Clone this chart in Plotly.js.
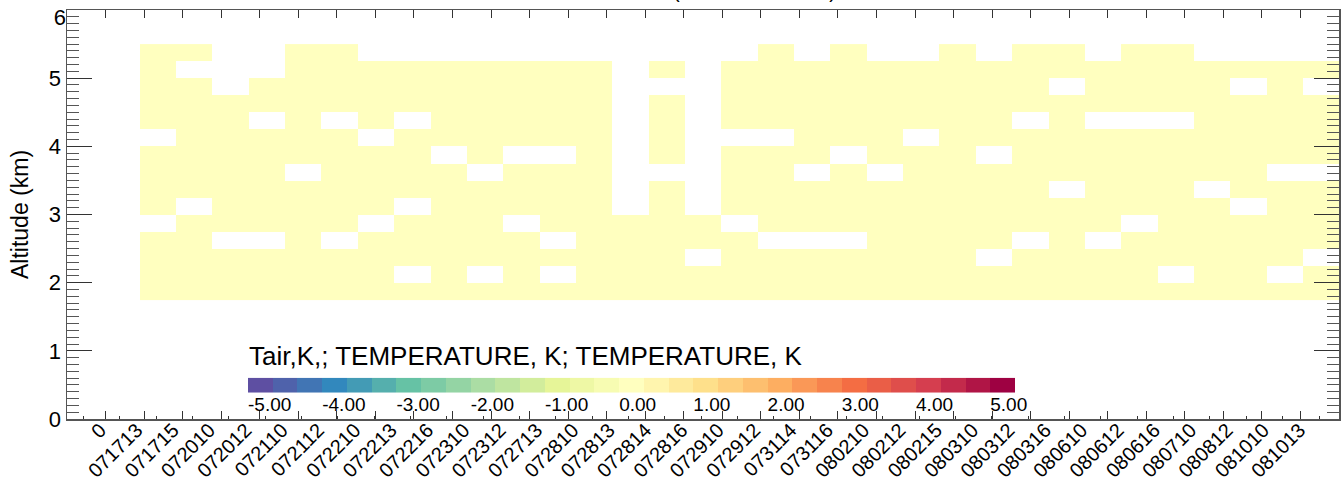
<!DOCTYPE html>
<html>
<head>
<meta charset="utf-8">
<script src="https://cdn.plot.ly/plotly-3.0.1.min.js"></script>
<style>
  html, body { margin: 0; padding: 0; background: #fff; }
  #chart { width: 1343px; height: 492px; }
</style>
</head>
<body>
<div id="chart"></div>
<script>
// ---------- data ----------
const xLabels = ['0', '071713', '071715', '072010', '072012', '072110', '072112', '072210', '072213', '072216',
  '072310', '072312', '072713', '072810', '072813', '072814', '072816', '072910', '072912', '073114',
  '073116', '080210', '080212', '080215', '080310', '080312', '080316', '080610', '080612', '080616',
  '080710', '080812', '081010', '081013'];

// altitude bin centres (km)
const altitude = [1.875, 2.125, 2.375, 2.625, 2.875, 3.125, 3.375, 3.625, 3.875, 4.125, 4.375, 4.625, 4.875, 5.125, 5.375];

const _ = null;
// temperature (K), one row per altitude bin, one entry per profile
const t1875 = [_,0,0,0,0,0,0,0,0,0, 0,0,0,0,0,0,0,0,0,0, 0,0,0,0,0,0,0,0,0,0, 0,0,0,0];
const t2125 = [_,0,0,0,0,0,0,0,_,0, _,0,_,0,0,0,0,0,0,0, 0,0,0,0,0,0,0,0,0,_, 0,0,_,0];
const t2375 = [_,0,0,0,0,0,0,0,0,0, 0,0,0,0,0,0,_,0,0,0, 0,0,0,0,_,0,0,0,0,0, 0,0,0,_];
const t2625 = [_,0,0,_,_,0,_,0,0,0, 0,0,_,0,0,0,0,0,_,_, _,0,0,0,0,_,0,_,0,0, 0,0,0,0];
const t2875 = [_,_,0,0,0,0,0,_,0,0, 0,_,0,0,0,0,0,_,0,0, 0,0,0,0,0,0,0,0,_,0, 0,0,0,0];
const t3125 = [_,0,_,0,0,0,0,0,_,0, 0,0,0,0,_,0,_,0,0,0, 0,0,0,0,0,0,0,0,0,0, 0,_,0,0];
const t3375 = [_,0,0,0,0,0,0,0,0,0, 0,0,0,0,_,0,_,0,0,0, 0,0,0,0,0,0,_,0,0,0, _,0,0,0];
const t3625 = [_,0,0,0,0,_,0,0,0,0, _,0,0,0,_,_,_,0,0,_, 0,_,0,0,0,0,0,0,0,0, 0,0,_,_];
const t3875 = [_,0,0,0,0,0,0,0,0,_, 0,_,_,0,_,0,_,0,0,0, _,0,0,0,_,0,0,0,0,0, 0,0,0,0];
const t4125 = [_,_,0,0,0,0,0,_,0,0, 0,0,0,0,_,0,_,_,_,0, 0,0,_,0,0,0,0,0,0,0, 0,0,0,0];
const t4375 = [_,0,0,0,_,0,_,0,_,0, 0,0,0,0,_,0,_,0,0,0, 0,0,0,0,0,_,0,_,_,_, 0,0,0,0];
const t4625 = [_,0,0,0,0,0,0,0,0,0, 0,0,0,0,_,0,_,0,0,0, 0,0,0,0,0,0,0,0,0,0, 0,0,0,0];
const t4875 = [_,0,0,_,0,0,0,0,0,0, 0,0,0,0,_,_,_,0,0,0, 0,0,0,0,0,0,_,0,0,0, 0,_,0,_];
const t5125 = [_,0,_,_,_,0,0,0,0,0, 0,0,0,0,_,0,_,0,0,0, 0,0,0,0,0,0,0,0,0,0, 0,0,0,0];
const t5375 = [_,0,0,_,_,0,0,_,_,_, _,_,_,_,_,_,_,_,0,_, 0,_,_,0,_,0,0,_,0,0, _,_,_,_];

const cbTitle = 'Tair,K,; TEMPERATURE, K; TEMPERATURE, K';
const cbMin = -5;
const cbMax = 16 / 3;
const cbTickVals = [-5, -4, -3, -2, -1, 0, 1, 2, 3, 4, 5];
const cbTickText = ['-5.00', '-4.00', '-3.00', '-2.00', '-1.00', '0.00', '1.00', '2.00', '3.00', '4.00', '5.00'];
const yTicks = [0, 1, 2, 3, 4, 5, 6];
const yTopTick = [6];

// ---------- style ----------
const cbColors = ['#5e4fa2', '#4f62ab', '#4175b4', '#3288bd', '#439bb5', '#55afad', '#66c2a5', '#7dcba5',
  '#94d4a4', '#abdda4', '#bfe5a0', '#d2ed9c', '#e6f598', '#eef8a5', '#f7fcb2', '#ffffbf', '#fff5ae',
  '#feea9c', '#fee08b', '#fecf7d', '#fdbf6f', '#fdae61', '#fa9857', '#f7834d', '#f46d43', '#ea5e47',
  '#df4e4b', '#d53e4f', '#c32a4b', '#b01546', '#9e0142'];
const nC = cbColors.length;
const colorscale = [];
cbColors.forEach((c, i) => {
  colorscale.push([i / nC, c]);
  colorscale.push([i === nC - 1 ? 1 : (i + 1) / nC - 1e-6, c]);
});
// centre value of each colour level of the scale (for drawing the colour key)
const cbLevels = cbColors.map((_c, i) => cbMin + (i + 0.5) * (cbMax - cbMin) / nC);

const FONT = 'Liberation Sans, Arial, Helvetica, sans-serif';
const z = [t1875, t2125, t2375, t2625, t2875, t3125, t3375, t3625, t3875, t4125, t4375, t4625, t4875, t5125, t5375];
const xCentres = xLabels.map((_l, i) => i + 0.5);
const xTickVals = xLabels.map((_l, i) => i);
const yRange = [0, 6.0001];
const PW = 1272, PH = 409; // plot area size in px

const heat = {
  type: 'heatmap',
  x: xCentres,
  y: altitude,
  z: z,
  zmin: cbMin,
  zmax: cbMax,
  colorscale: colorscale,
  showscale: false,
  hoverinfo: 'skip'
};

// colour key, drawn as a one-row heatmap on its own axes
const colourKey = {
  type: 'heatmap',
  x: cbLevels,
  y: [0],
  z: [cbLevels],
  zmin: cbMin,
  zmax: cbMax,
  colorscale: colorscale,
  showscale: false,
  xaxis: 'x3',
  yaxis: 'y3',
  hoverinfo: 'skip'
};

// helper traces so that the overlay axes (frame ticks, top altitude label) are drawn
const frameTicks = {type: 'scatter', x: [null], y: [null], xaxis: 'x2', yaxis: 'y', hoverinfo: 'skip', showlegend: false};
const topLabel = {type: 'scatter', x: [null], y: [null], xaxis: 'x', yaxis: 'y2', hoverinfo: 'skip', showlegend: false};

const layout = {
  width: 1343,
  height: 492,
  margin: {l: 67, r: 4, t: 10, b: 73},
  paper_bgcolor: '#fff',
  plot_bgcolor: '#fff',
  font: {family: FONT, color: '#000'},
  showlegend: false,
  xaxis: {
    range: [-1, 34],
    tickmode: 'array',
    tickvals: xTickVals,
    ticktext: xLabels,
    tickangle: -45,
    ticks: '',
    ticklabelstandoff: -10,
    ticklabelshift: -3,
    tickfont: {family: FONT, size: 20, color: '#000'},
    showgrid: false,
    zeroline: false,
    showline: true,
    mirror: true,
    linecolor: '#555',
    linewidth: 1.5,
    minor: {tickmode: 'linear', tick0: 0.45, dtick: 1, ticks: 'inside', ticklen: 3, tickcolor: '#333', showgrid: false}
  },
  xaxis2: {
    overlaying: 'x',
    anchor: 'y',
    side: 'bottom',
    range: [0, 33],
    tickmode: 'linear',
    tick0: 0,
    dtick: 1,
    ticks: 'inside',
    ticklen: 8,
    tickcolor: '#333',
    tickwidth: 1,
    mirror: 'ticks',
    showline: false,
    showticklabels: false,
    showgrid: false,
    zeroline: false
  },
  xaxis3: {
    domain: [(248 - 67) / PW, (1015 - 67) / PW],
    anchor: 'y3',
    range: [cbMin, cbMax],
    tickmode: 'array',
    tickvals: cbTickVals,
    ticktext: cbTickText,
    ticks: '',
    ticklabelposition: 'outside right',
    ticklabelstandoff: -2,
    tickfont: {family: FONT, size: 19, color: '#000'},
    showline: false,
    showgrid: false,
    zeroline: false
  },
  yaxis: {
    range: yRange,
    tickmode: 'array',
    tickvals: yTicks,
    ticktext: yTicks.map(v => (yTopTick.includes(v) ? '' : String(v))),
    ticks: 'inside',
    ticklen: 25,
    tickcolor: '#333',
    ticklabeloverflow: 'allow',
    tickfont: {family: FONT, size: 22, color: '#000'},
    showgrid: false,
    zeroline: false,
    showline: true,
    mirror: 'ticks',
    linecolor: '#555',
    linewidth: 1.5,
    minor: {tickmode: 'linear', tick0: 0, dtick: 0.1, ticks: 'inside', ticklen: 12, tickcolor: '#555', showgrid: false},
    title: {text: 'Altitude (km)', font: {family: FONT, size: 23, color: '#000'}, standoff: 14}
  },
  yaxis2: {
    overlaying: 'y',
    anchor: 'x',
    side: 'left',
    range: yRange,
    tickmode: 'array',
    tickvals: yTopTick,
    ticks: '',
    ticklabelshift: 7,
    ticklabeloverflow: 'allow',
    tickfont: {family: FONT, size: 22, color: '#000'},
    showline: false,
    showgrid: false,
    zeroline: false
  },
  yaxis3: {
    domain: [(419 - 392.7) / PH, (419 - 377.7) / PH],
    anchor: 'x3',
    showticklabels: false,
    ticks: '',
    showline: false,
    showgrid: false,
    zeroline: false
  },
  annotations: [{
    text: '(TEMPERATURE)',
    xref: 'paper', yref: 'paper',
    x: (754 - 67) / PW, y: 1,
    xanchor: 'center', yanchor: 'bottom',
    yshift: 6,
    showarrow: false,
    font: {family: FONT, size: 20, color: '#000'}
  }, {
    text: cbTitle,
    xref: 'paper', yref: 'paper',
    x: (247 - 67) / PW, y: (419 - 373) / PH,
    xanchor: 'left', yanchor: 'bottom',
    showarrow: false,
    font: {family: FONT, size: 26, color: '#000'}
  }]
};

Plotly.newPlot('chart', [heat, colourKey, frameTicks, topLabel], layout, {staticPlot: true, displayModeBar: false});
</script>
</body>
</html>
